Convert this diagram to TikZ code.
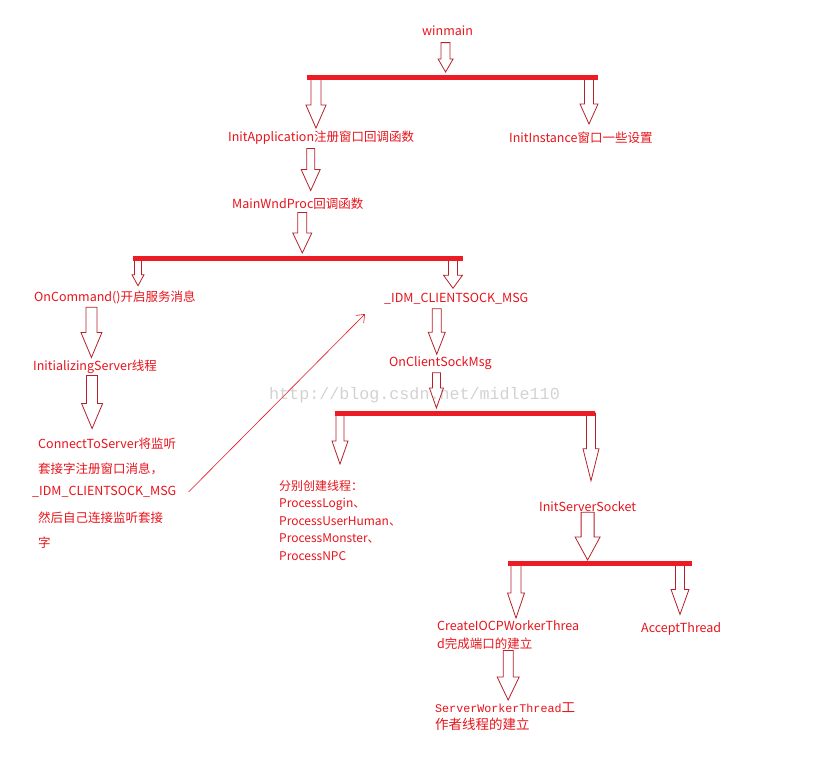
\documentclass[tikz,border=0pt]{standalone}
\usepackage{fontspec}
\setmainfont{Noto Sans CJK SC}
\newfontfamily\srcmono{Liberation Mono}
\usetikzlibrary{arrows.meta, calc}
\definecolor{txtred}{HTML}{E8141C}
\definecolor{barred}{HTML}{ED1C24}
\definecolor{edgered}{HTML}{B8202A}
\tikzset{
  lbl/.style={text=txtred, inner sep=0pt, anchor=west, font=\fontsize{12.5}{15}\selectfont},
  lines/.style={lbl, anchor=north west, align=left},
  bar/.style={barred, line width=5pt},
  blkline/.style={draw=edgered, fill=white, line width=0.8pt, line join=miter},
}
% hollow block arrow: shaft half width, head half width, head length, from, to
\newcommand{\blk}[5]{%
  \draw[blkline] let \p1=#4, \p2=#5 in
    (\x1-#1pt,\y1) -- (\x1-#1pt,\y2+#3pt) -- (\x1-#2pt,\y2+#3pt) -- (\x1,\y2)
    -- (\x1+#2pt,\y2+#3pt) -- (\x1+#1pt,\y2+#3pt) -- (\x1+#1pt,\y1) -- cycle;}

\begin{document}
\begin{tikzpicture}[x=1pt, y=-1pt]
  \useasboundingbox[fill=white] (0,0) rectangle (813,770);

  % labels
  \node[lbl] (winmain) at (422,31) {winmain};
  \node[lbl] (initapp) at (228,138) {InitApplication注册窗口回调函数};
  \node[lbl] (initinst) at (509,138) {InitInstance窗口一些设置};
  \node[lbl] (mainwnd) at (232,204) {MainWndProc回调函数};
  \node[lbl] (oncmd) at (34,297) {OnCommand()开启服务消息};
  \node[lbl] (idm) at (384,299) {\_IDM\_CLIENTSOCK\_MSG};
  \node[lbl] (initsrv) at (33,367) {InitializingServer线程};
  \node[lbl] (c1) at (38,444) {ConnectToServer将监听};
  \node[lbl] (c2) at (38,469) {套接字注册窗口消息，};
  \node[lbl] (c3) at (32,492) {\_IDM\_CLIENTSOCK\_MSG};
  \node[lbl] (c4) at (38,518) {然后自己连接监听套接};
  \node[lbl] (c5) at (38,543) {字};
  \node[lbl] (ocsm) at (389,363) {OnClientSockMsg};
  \node[lines, font=\fontsize{12}{17.5}\selectfont] (procs) at (279,480)
    {分别创建线程：\\ProcessLogin、\\ProcessUserHuman、\\ProcessMonster、\\ProcessNPC};
  \node[lbl] (initss) at (539,507) {InitServerSocket};
  \node[lines, font=\fontsize{12.5}{18}\selectfont] (create) at (437,620)
    {CreateIOCPWorkerThrea\\d完成端口的建立};
  \node[lbl] (accept) at (641,629) {AcceptThread};
  \node[lines, font=\fontsize{13.5}{17}\selectfont] (srvwork) at (435,702)
    {{\srcmono\fontsize{11.7}{17}\selectfont ServerWorkerThread}工\\作者线程的建立};

  % bar ends
  \coordinate (b1l) at (307,78);  \coordinate (b1r) at (598,78);
  \coordinate (b2l) at (133,258); \coordinate (b2r) at (463,258);
  \coordinate (b3l) at (335,413); \coordinate (b3r) at (595,413);
  \coordinate (b4l) at (508,563); \coordinate (b4r) at (692,563);

  % block arrows
  \blk{4.5}{7.5}{13}{([xshift=-2pt,yshift=-6.5pt]winmain.south)}{([yshift=6pt]b1l)}
  \blk{5}{10}{23}{([xshift=9pt]b1l)}{([yshift=3pt]initapp.north)}
  \blk{4.5}{9}{20}{([xshift=-9pt]b1r)}{([yshift=8pt]initinst.north)}
  \blk{4}{9.5}{21}{([xshift=-10.5pt,yshift=-3.5pt]initapp.south)}{([yshift=7.5pt]mainwnd.north)}
  \blk{4.5}{9.5}{20}{([xshift=4.5pt,yshift=-2.5pt]mainwnd.south)}{([yshift=5pt]b2l)}
  \blk{3.5}{6}{11}{([xshift=5pt]b2l)}{([yshift=4.5pt]oncmd.north)}
  \blk{4.5}{9.5}{13}{([xshift=-10pt]b2r)}{([yshift=5pt]idm.north)}
  \blk{5.5}{10.5}{25}{([xshift=-23.5pt,yshift=-3.5pt]oncmd.south)}{([yshift=2.5pt]initsrv.north)}
  \blk{5.5}{10.5}{25}{([xshift=-3pt,yshift=-1.5pt]initsrv.south)}{([yshift=9.5pt]c1.north)}
  \blk{4.5}{8.5}{22}{([xshift=-19.5pt,yshift=-4pt]idm.south)}{([yshift=2pt]ocsm.north)}
  \blk{4}{7}{20}{([xshift=-4pt,yshift=-3pt]ocsm.south)}{([yshift=5pt]b3l)}
  \blk{4}{8}{23}{([xshift=5pt]b3l)}{([yshift=16pt]procs.north)}
  \blk{4.5}{8}{32}{([xshift=-4pt]b3r)}{([yshift=21pt]initss.north)}
  \blk{6.5}{12.5}{23}{(initss.south)}{([yshift=3pt]b4l)}
  \blk{5}{8.5}{25}{([xshift=8pt]b4l)}{([yshift=2pt]create.north)}
  \blk{4.5}{9}{25}{([xshift=-12pt]b4r)}{([yshift=8pt]accept.north)}
  \blk{5}{11}{23}{([yshift=-1pt]create.south)}{([yshift=2pt]srvwork.north)}

  % bars
  \draw[bar] (b1l) -- (b1r);
  \draw[bar] (b2l) -- (b2r);
  \draw[bar] (b3l) -- (b3r);
  \draw[bar] (b4l) -- (b4r);

  % thin link back to the message
  \draw[txtred, line width=0.6pt, -{Straight Barb[length=7pt, width=11pt]}]
    ([xshift=12pt]c3.east) -- ([xshift=-19pt, yshift=-15pt]idm.west);

  % watermark
  \node[anchor=west, inner sep=0pt, text=gray, text opacity=0.35,
    font=\srcmono\fontsize{16.7}{18}\selectfont] (mark) at (269,395) {http://blog.csdn.net/midle110};
\end{tikzpicture}
\end{document}
